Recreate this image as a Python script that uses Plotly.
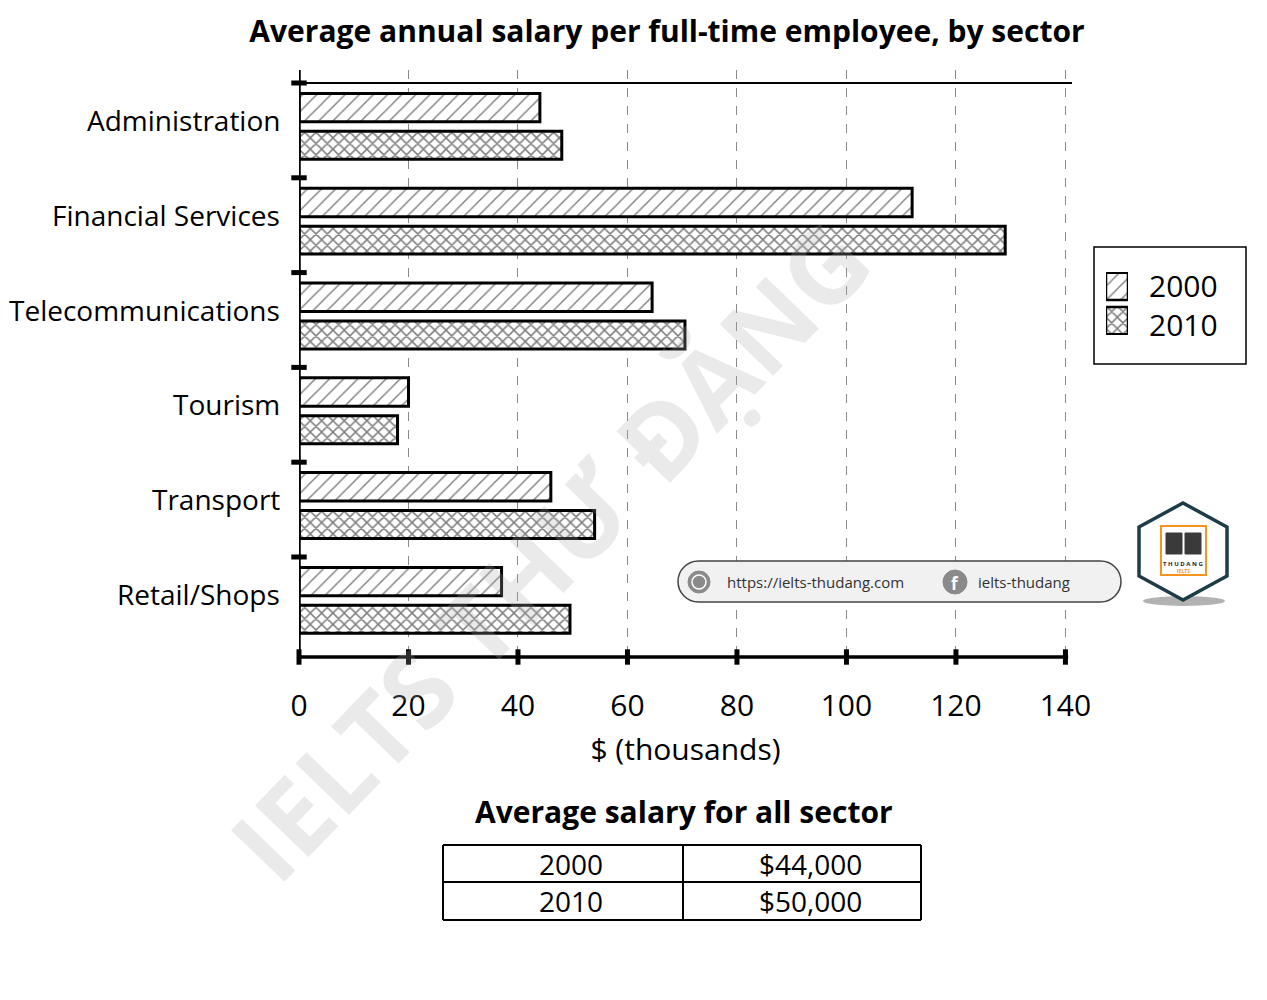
import plotly.graph_objects as go

# chart data
sectors = ["Administration", "Financial Services", "Telecommunications",
           "Tourism", "Transport", "Retail/Shops"]
salary_2000 = [44, 112, 64.5, 20, 46, 37]
salary_2010 = [48, 129, 70.5, 18, 54, 49.5]
x_ticks = [0, 20, 40, 60, 80, 100, 120, 140]
years = ["2000", "2010"]

avg_years = ["2000", "2010"]
avg_salary = ["$44,000", "$50,000"]

FONT = "Open Sans"
OFF = 8  # page body margin
W, H = 1267 - 2 * OFF, 1000 - 2 * OFF
# paper area in screen pixels; the page ends up ~19px narrower than asked,
# so the paper is taken as 932px wide
PL, PR, PT, PB = 299, 1231, 70, 657
PLOT_R = 1072


def fx(x):
    return (x - PL) / (PR - PL)


def fy(y):
    return (PB - y) / (PB - PT)


patterns = {
    "2000": dict(shape="/", fgcolor="black", bgcolor="white", size=10, solidity=0.14),
    "2010": dict(shape="x", fgcolor="black", bgcolor="white", size=8, solidity=0.34),
}

ypos = list(range(len(sectors)))

fig = go.Figure()
for yr, vals, off, wd in [("2000", salary_2000, -0.39, 0.30), ("2010", salary_2010, 0.01, 0.295)]:
    fig.add_trace(go.Bar(
        y=ypos, x=vals, orientation="h", name=yr, showlegend=False,
        offset=off, width=wd,
        marker=dict(color="white", line=dict(color="black", width=3), pattern=patterns[yr]),
    ))

# tick dots on both axes
bounds = [i - 0.5 for i in ypos]
fig.add_trace(go.Scatter(
    x=[0] * len(bounds), y=bounds, mode="markers", showlegend=False, hoverinfo="skip",
    cliponaxis=False,
    marker=dict(symbol="line-ew", size=11, line=dict(color="black", width=5)),
))
fig.add_trace(go.Scatter(
    x=x_ticks, y=[5.555] * len(x_ticks), mode="markers", showlegend=False, hoverinfo="skip",
    cliponaxis=False,
    marker=dict(symbol="line-ns", size=11, line=dict(color="black", width=5)),
))

# legend swatches drawn as tiny bars on their own axes
for i, yr in enumerate(years):
    fig.add_trace(go.Bar(
        y=[i], x=[1], orientation="h", width=0.8, showlegend=False, hoverinfo="skip",
        xaxis="x2", yaxis="y2",
        marker=dict(color="white", line=dict(color="black", width=2.5), pattern=patterns[yr]),
    ))

shapes = [
    # top line, left axis, bottom axis
    dict(type="line", xref="x", yref="y", x0=0, x1=141.2, y0=-0.5, y1=-0.5,
         line=dict(color="black", width=2)),
    dict(type="line", xref="x", yref="y domain", x0=0, x1=0, y0=0, y1=1,
         line=dict(color="black", width=3.5)),
    dict(type="line", xref="x", yref="y domain", x0=-1.2, x1=140.5, y0=0, y1=0,
         line=dict(color="black", width=3.5)),
    # legend frame
    dict(type="rect", xref="paper", yref="paper", x0=fx(1094), x1=fx(1246),
         y0=fy(364), y1=fy(247), line=dict(color="black", width=1.5)),
]

# url pill
x0, x1, y0, y1 = fx(678), fx(1121), fy(602), fy(561)
rx, ry = 20.5 / (PR - PL), 20.5 / (PB - PT)
k = 0.5523
pill = (f"M {x0+rx},{y0} L {x1-rx},{y0} "
        f"C {x1-rx+k*rx},{y0} {x1},{y0+ry-k*ry} {x1},{y0+ry} "
        f"C {x1},{y0+ry+k*ry} {x1-rx+k*rx},{y1} {x1-rx},{y1} "
        f"L {x0+rx},{y1} "
        f"C {x0+rx-k*rx},{y1} {x0},{y1-ry+k*ry} {x0},{y1-ry} "
        f"C {x0},{y1-ry-k*ry} {x0+rx-k*rx},{y0} {x0+rx},{y0} Z")
shapes.append(dict(type="path", xref="paper", yref="paper", path=pill,
                   fillcolor="#f1f1f1", line=dict(color="#444444", width=1.5)))
shapes.append(dict(type="circle", xref="paper", yref="paper",
                   x0=fx(688), x1=fx(710), y0=fy(593), y1=fy(571),
                   fillcolor="#8a8a8a", line=dict(color="#8a8a8a", width=1)))
shapes.append(dict(type="circle", xref="paper", yref="paper",
                   x0=fx(692), x1=fx(706), y0=fy(589), y1=fy(575),
                   fillcolor="rgba(0,0,0,0)", line=dict(color="white", width=1.5)))
shapes.append(dict(type="circle", xref="paper", yref="paper",
                   x0=fx(943), x1=fx(967), y0=fy(594), y1=fy(570),
                   fillcolor="#8a8a8a", line=dict(color="#8a8a8a", width=1)))

# logo hexagon
cx = 1183
hexpts = [(cx, 503), (cx + 44, 527), (cx + 44, 576), (cx, 600), (cx - 44, 576), (cx - 44, 527)]
shapes.append(dict(type="circle", xref="paper", yref="paper",
                   x0=fx(1143), x1=fx(1225), y0=fy(606), y1=fy(596),
                   fillcolor="rgba(0,0,0,0.3)", line=dict(width=0)))
shapes.append(dict(type="path", xref="paper", yref="paper",
                   path="M " + " L ".join(f"{fx(a)},{fy(b)}" for a, b in hexpts) + " Z",
                   fillcolor="white", line=dict(color="#1d3c46", width=3.5)))
shapes.append(dict(type="rect", xref="paper", yref="paper",
                   x0=fx(1161), x1=fx(1206), y0=fy(575), y1=fy(526),
                   fillcolor="white", line=dict(color="#f7941d", width=2)))
shapes.append(dict(type="rect", xref="paper", yref="paper",
                   x0=fx(1166), x1=fx(1182), y0=fy(554), y1=fy(533),
                   fillcolor="#3a3a3a", line=dict(color="#3a3a3a", width=1)))
shapes.append(dict(type="rect", xref="paper", yref="paper",
                   x0=fx(1185), x1=fx(1201), y0=fy(554), y1=fy(533),
                   fillcolor="#3a3a3a", line=dict(color="#3a3a3a", width=1)))

# summary table lines
tx0, tx1, tmid = 443, 921, 683
ty0, ty1, tymid = 845, 920, 882
for xa, xb, ya, yb in [(tx0, tx1, ty0, ty0), (tx0, tx1, tymid, tymid), (tx0, tx1, ty1, ty1),
                       (tx0, tx0, ty0, ty1), (tx1, tx1, ty0, ty1), (tmid, tmid, ty0, ty1)]:
    shapes.append(dict(type="line", xref="paper", yref="paper",
                       x0=fx(xa), x1=fx(xb), y0=fy(ya), y1=fy(yb),
                       line=dict(color="black", width=2)))


def note(text, x, y, size, color="black", xanchor="center", **kw):
    return dict(text=text, xref="paper", yref="paper", x=fx(x), y=fy(y),
                xanchor=xanchor, yanchor="middle", showarrow=False,
                font=dict(family=FONT, size=size, color=color), **kw)


annotations = []
# watermark
annotations.append(note("<b>IELTS THƯ ĐẶNG</b>", 548, 550, 104,
                        color="rgba(170,170,170,0.25)", textangle=-46))
# sector labels
for i, s in enumerate(sectors):
    annotations.append(dict(text=s, xref="x", yref="y", x=0, y=i - 0.11,
                            xanchor="right", yanchor="middle", xshift=-17, showarrow=False,
                            font=dict(family=FONT, size=28, color="black")))
# legend texts
annotations.append(note("2000", 1147, 285, 30, xanchor="left"))
annotations.append(note("2010", 1147, 324, 30, xanchor="left"))
# pill texts
annotations.append(note("https://ielts-thudang.com", 725, 582, 15, color="#333333", xanchor="left"))
annotations.append(note("<b>f</b>", 955, 583, 17, color="white"))
annotations.append(note("ielts-thudang", 976, 582, 15, color="#333333", xanchor="left"))
annotations.append(note("<b>T H U D A N G</b>", 1183, 564, 6, color="#222222"))
annotations.append(note("<b>IELTS</b>", 1183, 571, 5, color="#f7941d"))
# summary table
annotations.append(note("<b>Average salary for all sector</b>", 684, 812, 30))
row_y = [(ty0 + tymid) / 2, (tymid + ty1) / 2]
for yr, val, yy in zip(avg_years, avg_salary, row_y):
    annotations.append(note(yr, (tx0 + tmid) / 2 + 8, yy, 28))
    annotations.append(note(val, (tmid + tx1) / 2 + 8, yy, 28))

fig.update_layout(
    width=W, height=H,
    margin=dict(l=PL - OFF, r=9, t=PT - OFF, b=OFF + H - PB),
    paper_bgcolor="white", plot_bgcolor="white",
    barmode="overlay",
    showlegend=False,
    title=dict(text="<b>Average annual salary per full-time employee, by sector</b>",
               x=fx(667), xref="paper", xanchor="center", y=1 - (31 - OFF) / H,
               yanchor="middle",
               font=dict(family=FONT, size=30, color="black")),
    xaxis=dict(domain=[0, fx(PLOT_R)], range=[0, 141.2], tickvals=x_ticks,
               showgrid=True, gridcolor="#8a8a8a", griddash="dash", gridwidth=1,
               zeroline=False, showline=False, ticks="", ticklabelstandoff=28,
               tickfont=dict(family=FONT, size=30, color="black"),
               title=dict(text="$ (thousands)", standoff=14,
                          font=dict(family=FONT, size=30, color="black"))),
    yaxis=dict(domain=[0, 1], range=[5.555, -0.637], showgrid=False,
               zeroline=False, showline=False, showticklabels=False, ticks=""),
    xaxis2=dict(domain=[fx(1106), fx(1128)], range=[0, 1], anchor="y2", visible=False,
                fixedrange=True),
    yaxis2=dict(domain=[fy(335), fy(272)], range=[1.42, -0.42], anchor="x2", visible=False,
                fixedrange=True),
    shapes=shapes,
    annotations=annotations,
)

fig.write_html("out.html")
